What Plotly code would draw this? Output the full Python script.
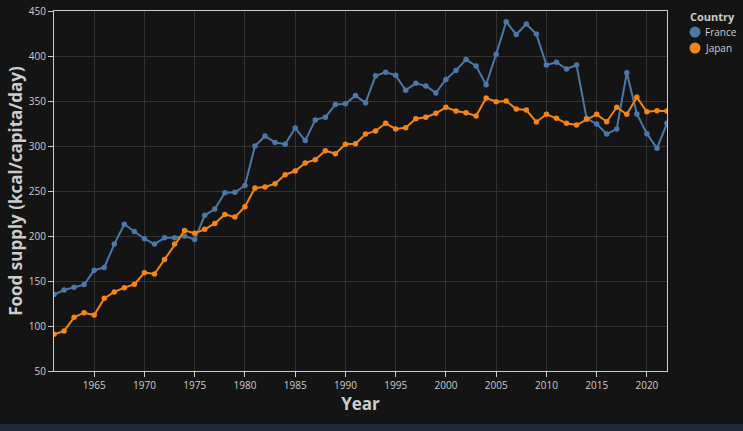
import plotly.graph_objects as go

years = list(range(1961, 2023))

france = [135, 140, 143, 146, 162, 165, 191, 213, 205, 197, 191, 198, 198, 200, 196,
          223, 230, 248, 248.5, 256, 300, 311, 304, 302, 320, 306, 329, 332, 346, 347,
          356, 348, 378, 382, 378.5, 362, 369.6, 366.7, 359, 374, 384, 396, 389, 368,
          402, 438, 424, 435.6, 424.4, 390, 393, 385.6, 390, 330.7, 324.4, 313.3, 319,
          381.5, 335.6, 313.7, 297.4, 325.2]

japan = [90.7, 94.4, 109.6, 114.8, 112.2, 130.7, 137.8, 142.6, 146.3, 159.3, 157.8, 174,
         191, 206, 203, 207.4, 214, 224, 221, 232.6, 253.3, 254.4, 258.1, 268.1, 272.2,
         281.1, 284.8, 294.8, 291.5, 302, 302.6, 313.3, 316.7, 325.2, 318.9, 320.4, 330.4,
         331.9, 336.3, 343, 338.9, 337, 333.3, 353.3, 349.3, 350, 341, 340, 326.7, 335.2,
         330.7, 325.2, 323.3, 329.6, 335.2, 327, 343, 335.2, 354.1, 338.1, 339.2, 338.9]

series_names = ["France", "Japan"]
colors = ["#4c78a8", "#f58518"]
x_ticks = list(range(1965, 2021, 5))
y_ticks = list(range(50, 451, 50))
legend_title = "Country"

font_family = "Open Sans, Noto Sans, sans-serif"
axis_col = "#cccccc"
grid_col = "#333333"
bg = "#141414"

fig = go.Figure()
for name, vals, c in zip(series_names, [france, japan], colors):
    fig.add_trace(go.Scatter(
        x=years, y=vals, mode="lines+markers", name=name,
        line=dict(color=c, width=2),
        marker=dict(color=c, size=5.5),
        showlegend=False,
        hovertemplate="%{x}: %{y}<extra>" + name + "</extra>",
    ))

# Legend drawn manually (Vega-style: title, filled circles, labels)
shapes = [dict(
    type="rect", xref="paper", yref="paper",
    x0=-0.1, x1=1.2, y0=-0.147, y1=-0.2,
    fillcolor="#1e2a3b", line=dict(width=0), layer="below",
)]
annotations = [dict(
    text="<b>" + legend_title + "</b>", xref="paper", yref="paper",
    x=1.0343, y=0.9861, xanchor="left", yanchor="middle", showarrow=False,
    font=dict(size=11, color=axis_col, family=font_family),
)]
for i, (name, c) in enumerate(zip(series_names, colors)):
    yc = 0.9417 - i * 0.0445
    shapes.append(dict(
        type="circle", xref="paper", yref="paper",
        xsizemode="pixel", ysizemode="pixel",
        xanchor=1.0457, yanchor=yc, x0=-5.5, x1=5.5, y0=-5.5, y1=5.5,
        fillcolor=c, line=dict(width=0),
    ))
    annotations.append(dict(
        text=name, xref="paper", yref="paper",
        x=1.0587, y=yc, xanchor="left", yanchor="middle", showarrow=False,
        font=dict(size=10, color=axis_col, family=font_family),
    ))

fig.update_layout(
    width=743, height=431,
    margin=dict(l=54, r=76, t=11, b=60, autoexpand=False),
    paper_bgcolor=bg, plot_bgcolor=bg,
    font=dict(family=font_family, color=axis_col, size=10),
    showlegend=False,
    xaxis=dict(
        range=[1961, 2022], tickvals=x_ticks, ticktext=[str(v) for v in x_ticks],
        showgrid=True, gridcolor=grid_col, gridwidth=1,
        showline=True, linecolor=axis_col, linewidth=1, mirror=True,
        ticks="outside", ticklen=5, tickcolor=axis_col, tickwidth=1,
        tickfont=dict(size=10, color=axis_col),
        title=dict(text="<b>Year</b>", font=dict(size=17, color=axis_col), standoff=3),
        zeroline=False,
    ),
    yaxis=dict(
        range=[50, 450], tickvals=y_ticks,
        showgrid=True, gridcolor=grid_col, gridwidth=1,
        showline=True, linecolor=axis_col, linewidth=1, mirror=True,
        ticks="outside", ticklen=5, tickcolor=axis_col, tickwidth=1,
        tickfont=dict(size=10, color=axis_col),
        title=dict(text="<b>Food supply (kcal/capita/day)</b>", font=dict(size=17, color=axis_col), standoff=1),
        zeroline=False,
    ),
    shapes=shapes,
    annotations=annotations,
)

fig.write_html(
    "out.html",
    config={"displayModeBar": False},
    post_script="document.body.style.margin='0';document.body.style.background='#141414';",
)
